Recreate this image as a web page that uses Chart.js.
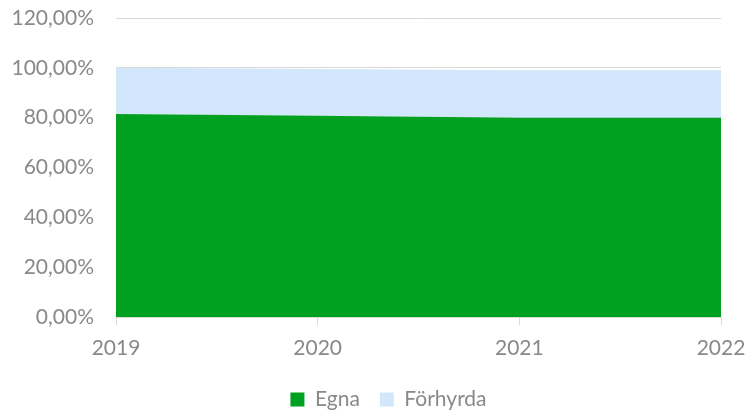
<!DOCTYPE html>
<html>
<head>
<meta charset="utf-8">
<script src="https://cdn.jsdelivr.net/npm/chart.js@4"></script>
<style>
  html, body { margin: 0; padding: 0; background: #fff; }
  #wrap { width: 747px; height: 413px; }
</style>
</head>
<body>
<div id="wrap"><canvas id="chart"></canvas></div>
<script>
const years = ['2019', '2020', '2021', '2022'];
const egna = [81.5, 80.8, 80.0, 80.0];
const forhyrda = [18.5, 18.7, 19.0, 19.0];
const yTicks = [0, 20, 40, 60, 80, 100, 120];

const GREY = '#898989';
const GRID = '#d9d9d9';

Chart.defaults.font.family = 'Lato, "Liberation Sans", sans-serif';
Chart.defaults.color = GREY;

// the reference legend sits a bit right of the canvas centre
const legendShift = {
    id: 'legendShift',
    afterLayout(chart) {
        chart.legend.left += 28;
        chart.legend.right += 28;
    }
};

var ctx = document.getElementById('chart').getContext('2d');
var myChart = new Chart(ctx, {
    type: 'line',
    data: {
        labels: years,
        datasets: [{
            label: 'Egna',
            data: egna,
            backgroundColor: '#00a020',
            borderWidth: 0,
            pointRadius: 0,
            fill: 'origin',
            tension: 0
        }, {
            label: 'Förhyrda',
            data: forhyrda,
            backgroundColor: '#d2e6fc',
            borderWidth: 0,
            pointRadius: 0,
            fill: '-1',
            tension: 0
        }]
    },
    plugins: [legendShift],
    options: {
        responsive: true,
        maintainAspectRatio: false,
        animation: false,
        layout: { padding: { top: 18, right: 26, left: 0, bottom: 0 } },
        plugins: {
            legend: {
                position: 'bottom',
                maxHeight: 44,
                labels: {
                    boxWidth: 14,
                    boxHeight: 14,
                    padding: 20,
                    font: { size: 21 },
                    color: GREY
                }
            },
            tooltip: { enabled: false }
        },
        scales: {
            x: {
                offset: false,
                border: { display: true, color: GRID },
                grid: { drawOnChartArea: false, drawTicks: true, tickLength: 8, color: GRID },
                ticks: { font: { size: 21 }, padding: 11, maxRotation: 0 },
                afterFit: function(scale) {
                    scale.height = 52;
                    scale.paddingLeft = 0;
                    scale.paddingRight = 0;
                }
            },
            y: {
                stacked: true,
                min: 0,
                max: 120,
                border: { display: false },
                grid: { color: GRID, drawTicks: false },
                afterBuildTicks: function(scale) {
                    scale.ticks = yTicks.map(v => ({ value: v }));
                },
                ticks: {
                    font: { size: 21 },
                    padding: 22,
                    callback: function(v) { return v.toFixed(2).replace('.', ',') + '%'; }
                },
                afterFit: function(scale) {
                    scale.width = 116;
                    scale.paddingTop = 0;
                    scale.paddingBottom = 0;
                }
            }
        }
    }
});
</script>
</body>
</html>
